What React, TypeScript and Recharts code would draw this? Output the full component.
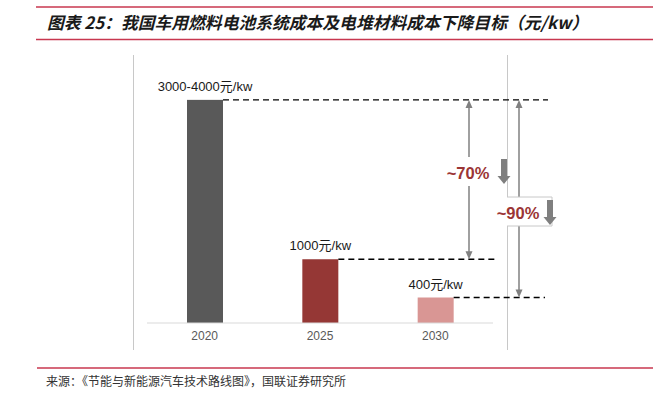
import React from 'react';
import { BarChart, Bar, XAxis, YAxis, LabelList, Cell } from 'recharts';

const years = ['2020', '2025', '2030'];
const costs = [3500, 1000, 400];
const costLabels = ['3000-4000元/kw', '1000元/kw', '400元/kw'];
const barColors = ['#595959', '#953735', '#d99694'];
const dropLabels = ['~70%', '~90%'];

const data = years.map((year, i) => ({ year, cost: costs[i], label: costLabels[i] }));

const W = 669;
const H = 393;
const RED = '#c8374f';
const FRAME = '#c8c8c8';
const ARROW = '#808080';
const PCT = '#9b3535';

// where each dashed guide line stops on the right
const dashEnd = [548, 495, 545];

const headUp = (x: number, y: number) => `M${x},${y} L${x - 3.5},${y + 8} L${x + 3.5},${y + 8} Z`;
const headDown = (x: number, y: number) => `M${x},${y} L${x - 3.5},${y - 8} L${x + 3.5},${y - 8} Z`;

const BlockArrow = ({ x, y1, y2 }: { x: number; y1: number; y2: number }) => (
  <path
    d={`M${x - 3},${y1} L${x + 3},${y1} L${x + 3},${y2 - 8} L${x + 6.5},${y2 - 8} L${x},${y2} L${x - 6.5},${y2 - 8} L${x + -3},${y2 - 8} Z`}
    fill="#7f7f7f"
  />
);

const BarShape = (props: any) => {
  const { x, y, width, height, index, fill, payload } = props;
  const right = x + width;
  let notes = null;
  if (index === data.length - 1) {
    // derive the value scale from this bar so the arrows line up with the bars
    const unit = height / payload.cost;
    const base = y + height;
    const yOf = (v: number) => base - v * unit;
    const top = yOf(costs[0]);
    const mid = yOf(costs[1]);
    const low = yOf(costs[2]);
    const a1 = 469;
    const a2 = 519;
    notes = (
      <g>
        <line x1={a1} x2={a1} y1={top + 6} y2={mid - 6} stroke={ARROW} strokeWidth={1.5} />
        <path d={headUp(a1, top)} fill={ARROW} />
        <path d={headDown(a1, mid)} fill={ARROW} />
        <rect x={444} y={157} width={50} height={29} fill="#fff" />
        <text x={468} y={173} textAnchor="middle" dominantBaseline="central" fill={PCT} fontSize={16.5} fontWeight="bold" fontFamily="'Liberation Sans', Arial, sans-serif">
          {dropLabels[0]}
        </text>
        <BlockArrow x={504} y1={159} y2={184} />

        <line x1={a2} x2={a2} y1={top + 6} y2={low - 6} stroke={ARROW} strokeWidth={1.5} />
        <path d={headUp(a2, top)} fill={ARROW} />
        <path d={headDown(a2, low)} fill={ARROW} />
        <rect x={494} y={197} width={58} height={29} fill="#fff" />
        <path d="M507,197 L552,197 L552,226 L507,226" fill="none" stroke={FRAME} strokeWidth={1} />
        <text x={518} y={213} textAnchor="middle" dominantBaseline="central" fill={PCT} fontSize={16.5} fontWeight="bold" fontFamily="'Liberation Sans', Arial, sans-serif">
          {dropLabels[1]}
        </text>
        <BlockArrow x={550} y1={200} y2={225} />
      </g>
    );
  }
  return (
    <g>
      <rect x={x} y={y} width={width} height={height} fill={fill} />
      <line x1={right} x2={dashEnd[index]} y1={y} y2={y} stroke="#000" strokeWidth={1.3} strokeDasharray="6 4" />
      {notes}
    </g>
  );
};

export default function App() {
  return (
    <div style={{ position: 'fixed', left: 0, top: 0, width: W, height: H, background: '#fff' }}>
      <svg width={W} height={H} style={{ position: 'absolute', left: 0, top: 0 }}>
        <line x1={36} x2={653} y1={7} y2={7} stroke={RED} strokeWidth={1.5} />
        <line x1={36} x2={653} y1={39.5} y2={39.5} stroke={RED} strokeWidth={1.5} />
        <text x={47} y={29} fontSize={16.8} fontWeight="bold" fontStyle="italic" fill="#1a1a1a" fontFamily="'Noto Sans CJK SC', sans-serif">
          图表 25：我国车用燃料电池系统成本及电堆材料成本下降目标（元/kw）
        </text>
        <line x1={133.5} x2={133.5} y1={55} y2={350} stroke={FRAME} strokeWidth={1} />
        <line x1={507.5} x2={507.5} y1={55} y2={350} stroke={FRAME} strokeWidth={1} />
        <line x1={37} x2={653} y1={368} y2={368} stroke={RED} strokeWidth={1.5} />
        <text x={46} y={386} fontSize={12} fill="#333" fontFamily="'Noto Sans CJK SC', serif">
          来源：《节能与新能源汽车技术路线图》，国联证券研究所
        </text>
      </svg>
      <div style={{ position: 'absolute', left: 0, top: 0 }}>
        <BarChart width={W} height={H} data={data} margin={{ top: 68, right: 176, bottom: 40, left: 147 }} barSize={36}>
          <XAxis
            dataKey="year"
            axisLine={{ stroke: '#d9d9d9' }}
            tickLine={false}
            tick={{ fill: '#595959', fontSize: 12, fontFamily: "'Liberation Sans', Arial, sans-serif" }}
            height={30}
          />
          <YAxis hide domain={[0, 4000]} />
          <Bar dataKey="cost" isAnimationActive={false} shape={BarShape}>
            {data.map((d, i) => (
              <Cell key={d.year} fill={barColors[i]} />
            ))}
            <LabelList
              dataKey="label"
              position="top"
              offset={9}
              fill="#1a1a1a"
              fontSize={13}
              fontFamily="'Liberation Sans', Arial, 'Noto Sans CJK SC', sans-serif"
            />
          </Bar>
        </BarChart>
      </div>
    </div>
  );
}
